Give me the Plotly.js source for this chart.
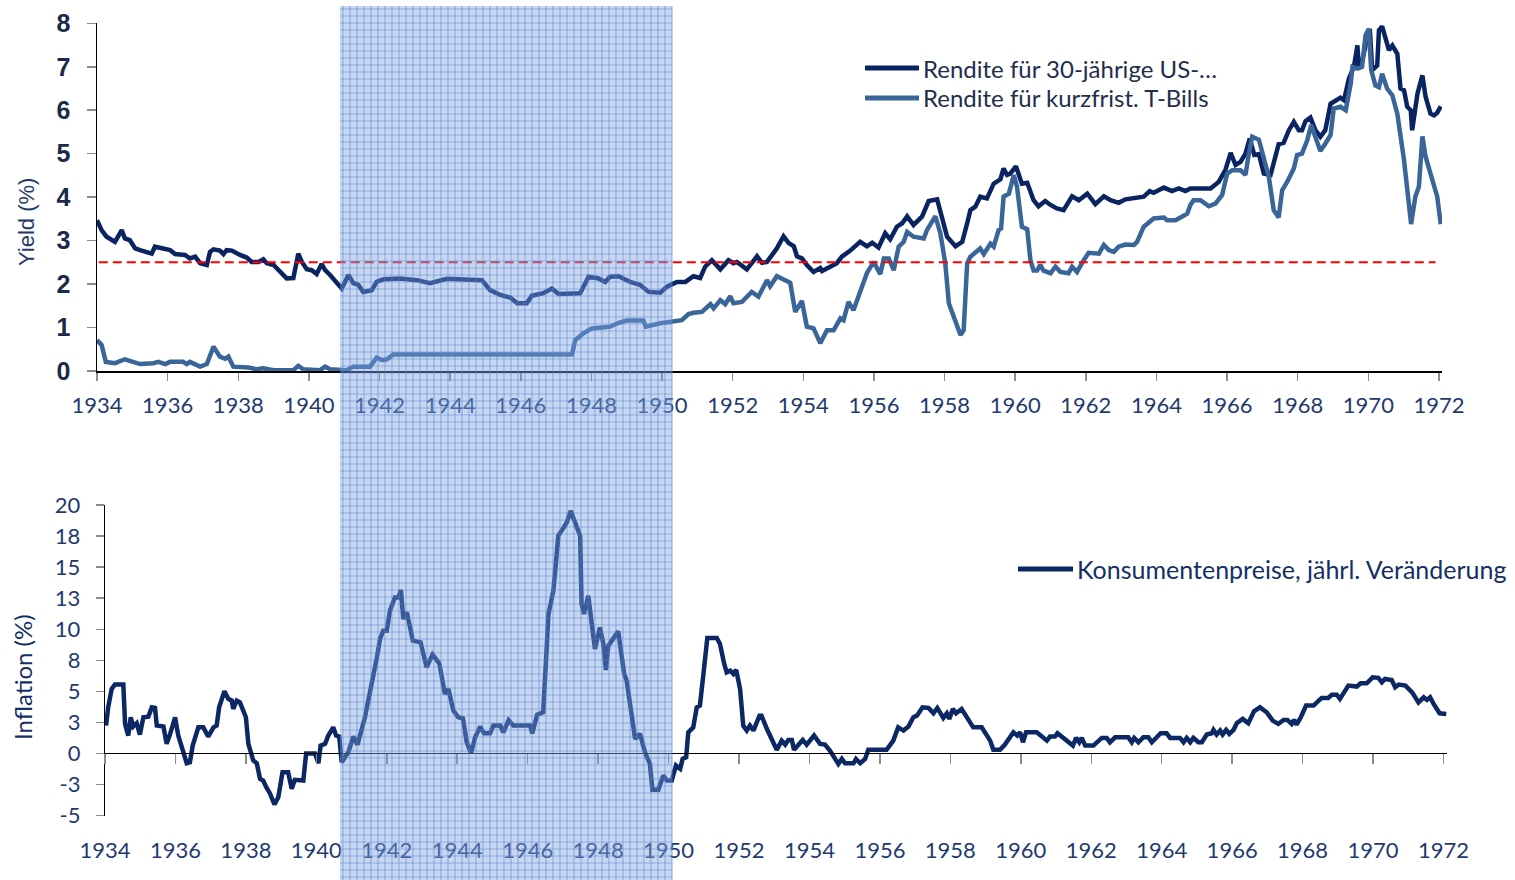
<!DOCTYPE html>
<html><head><meta charset="utf-8">
<script src="https://cdn.plot.ly/plotly-3.0.1.min.js"></script>
<style>html,body{margin:0;padding:0;background:#fff}</style>
</head><body><div id="chart" style="width:1515px;height:880px"></div>
<script>
// ---- Data ----
const bondYears=[1934.00,1934.13,1934.27,1934.51,1934.70,1934.79,1934.93,1935.08,1935.22,1935.55,1935.64,1935.88,1936.07,1936.21,1936.49,1936.63,1936.78,1936.92,1937.11,1937.20,1937.30,1937.48,1937.58,1937.67,1937.82,1938.05,1938.24,1938.38,1938.57,1938.71,1938.81,1939.00,1939.18,1939.37,1939.56,1939.70,1939.80,1939.94,1940.08,1940.22,1940.36,1940.46,1940.60,1940.74,1940.93,1941.12,1941.26,1941.40,1941.54,1941.78,1941.92,1942.11,1942.58,1943.06,1943.43,1943.91,1944.47,1944.90,1945.13,1945.42,1945.70,1945.90,1946.17,1946.31,1946.64,1946.88,1947.07,1947.40,1947.68,1947.92,1948.20,1948.39,1948.53,1948.77,1949.10,1949.38,1949.62,1949.95,1950.14,1950.42,1950.66,1950.89,1951.08,1951.22,1951.41,1951.65,1951.88,1952.02,1952.12,1952.40,1952.69,1952.83,1952.97,1953.25,1953.44,1953.58,1953.73,1953.82,1953.96,1954.10,1954.29,1954.48,1954.53,1954.76,1954.95,1955.09,1955.33,1955.61,1955.80,1955.95,1956.13,1956.32,1956.46,1956.65,1956.80,1956.94,1957.12,1957.36,1957.55,1957.79,1957.93,1958.07,1958.31,1958.50,1958.64,1958.73,1958.87,1959.01,1959.20,1959.39,1959.58,1959.67,1959.77,1959.86,1960.02,1960.19,1960.34,1960.52,1960.66,1960.85,1961.00,1961.18,1961.37,1961.61,1961.80,1962.04,1962.27,1962.51,1962.70,1962.93,1963.12,1963.36,1963.64,1963.81,1963.92,1964.21,1964.44,1964.63,1964.82,1964.96,1965.25,1965.53,1965.76,1965.95,1966.10,1966.24,1966.38,1966.52,1966.64,1966.77,1966.90,1967.04,1967.23,1967.32,1967.46,1967.60,1967.75,1967.89,1968.03,1968.12,1968.22,1968.36,1968.50,1968.64,1968.78,1968.93,1969.07,1969.21,1969.31,1969.45,1969.59,1969.69,1969.73,1969.82,1969.97,1970.04,1970.11,1970.25,1970.30,1970.39,1970.53,1970.58,1970.68,1970.82,1970.91,1971.01,1971.10,1971.20,1971.24,1971.39,1971.53,1971.62,1971.76,1971.86,1971.95,1972.05];
const bondYield=[3.47,3.24,3.09,2.97,3.24,3.05,3.01,2.82,2.78,2.70,2.86,2.82,2.78,2.69,2.67,2.59,2.63,2.48,2.44,2.74,2.80,2.77,2.69,2.78,2.77,2.67,2.61,2.51,2.51,2.57,2.48,2.44,2.28,2.13,2.14,2.70,2.51,2.34,2.32,2.23,2.46,2.32,2.21,2.09,1.90,2.21,2.02,1.98,1.82,1.86,2.05,2.11,2.13,2.09,2.02,2.12,2.09,2.09,1.86,1.75,1.69,1.56,1.56,1.73,1.79,1.90,1.77,1.79,1.79,2.17,2.13,2.05,2.17,2.18,2.05,1.98,1.82,1.80,1.94,2.05,2.05,2.18,2.14,2.40,2.55,2.34,2.55,2.48,2.51,2.34,2.64,2.49,2.51,2.82,3.10,2.95,2.87,2.64,2.59,2.44,2.28,2.37,2.30,2.40,2.48,2.63,2.77,2.97,2.87,2.95,2.84,3.17,3.03,3.32,3.40,3.56,3.36,3.55,3.91,3.95,3.47,3.09,2.87,2.97,3.40,3.70,3.78,4.01,3.97,4.31,4.41,4.66,4.51,4.54,4.71,4.31,4.33,3.93,3.79,3.91,3.82,3.74,3.70,4.02,3.93,4.08,3.84,4.02,3.93,3.87,3.95,3.97,4.01,4.14,4.10,4.22,4.14,4.20,4.14,4.20,4.20,4.20,4.35,4.62,5.02,4.74,4.81,5.00,5.35,4.97,4.99,4.54,4.51,4.77,5.22,5.25,5.54,5.73,5.54,5.54,5.75,5.83,5.54,5.39,5.54,6.15,6.23,6.29,6.23,6.73,7.00,7.49,6.96,7.11,7.69,7.87,6.92,7.03,7.84,7.93,7.53,7.38,7.49,7.30,6.50,6.46,6.08,6.00,5.54,6.38,6.80,6.31,5.92,5.88,5.94,6.09];

const billYears=[1934.00,1934.13,1934.25,1934.51,1934.79,1935.22,1935.59,1935.74,1935.93,1936.07,1936.44,1936.54,1936.63,1936.92,1937.11,1937.30,1937.48,1937.63,1937.72,1937.86,1938.29,1938.52,1938.71,1939.00,1939.56,1939.70,1939.84,1940.32,1940.46,1940.60,1941.07,1941.26,1941.73,1941.92,1942.07,1942.21,1942.39,1947.45,1947.54,1947.78,1948.01,1948.53,1948.77,1949.00,1949.47,1949.54,1949.95,1950.42,1950.56,1950.75,1950.89,1951.13,1951.37,1951.46,1951.65,1951.79,1951.93,1952.02,1952.26,1952.54,1952.73,1952.97,1953.06,1953.25,1953.40,1953.63,1953.77,1953.96,1954.10,1954.29,1954.48,1954.67,1954.86,1955.05,1955.14,1955.28,1955.42,1955.61,1955.80,1955.99,1956.18,1956.28,1956.42,1956.56,1956.70,1956.84,1956.94,1957.12,1957.41,1957.50,1957.74,1957.88,1958.02,1958.12,1958.26,1958.45,1958.54,1958.64,1958.73,1959.01,1959.11,1959.30,1959.39,1959.53,1959.60,1959.67,1959.82,1959.96,1960.05,1960.19,1960.34,1960.43,1960.52,1960.62,1960.71,1960.80,1961.00,1961.14,1961.28,1961.51,1961.61,1961.75,1961.94,1962.08,1962.37,1962.51,1962.65,1962.79,1962.93,1963.12,1963.36,1963.45,1963.64,1963.92,1964.21,1964.30,1964.54,1964.87,1964.96,1965.05,1965.25,1965.48,1965.67,1965.86,1966.00,1966.15,1966.38,1966.52,1966.61,1966.71,1966.90,1967.04,1967.18,1967.32,1967.46,1967.56,1967.70,1967.89,1967.98,1968.12,1968.27,1968.38,1968.50,1968.64,1968.78,1968.93,1969.02,1969.21,1969.36,1969.50,1969.55,1969.69,1969.82,1969.92,1970.01,1970.08,1970.20,1970.30,1970.39,1970.53,1970.68,1970.82,1971.01,1971.10,1971.21,1971.33,1971.43,1971.53,1971.62,1971.76,1971.95,1972.05];
const billYield=[0.71,0.60,0.21,0.18,0.27,0.16,0.18,0.21,0.16,0.21,0.21,0.16,0.21,0.10,0.16,0.56,0.33,0.28,0.33,0.10,0.08,0.04,0.06,0.02,0.02,0.12,0.04,0.02,0.10,0.04,0.02,0.10,0.10,0.31,0.25,0.27,0.38,0.38,0.71,0.87,0.98,1.02,1.11,1.16,1.16,1.02,1.10,1.17,1.17,1.31,1.34,1.36,1.54,1.44,1.63,1.54,1.72,1.56,1.59,1.82,1.71,2.09,1.95,2.18,2.13,2.03,1.36,1.61,1.02,0.98,0.64,0.94,0.94,1.21,1.17,1.59,1.40,1.86,2.25,2.51,2.23,2.59,2.59,2.32,2.86,2.97,3.20,3.09,3.05,3.24,3.56,3.17,2.48,1.56,1.25,0.83,0.94,2.48,2.63,2.82,2.69,2.93,2.86,3.24,3.28,4.01,4.08,4.51,4.24,3.32,3.26,2.55,2.31,2.31,2.44,2.31,2.25,2.40,2.28,2.25,2.40,2.28,2.55,2.72,2.70,2.90,2.78,2.74,2.86,2.91,2.90,2.97,3.32,3.51,3.53,3.47,3.47,3.62,3.82,3.93,3.93,3.79,3.85,4.05,4.54,4.62,4.62,4.51,4.97,5.39,5.32,4.89,4.47,3.70,3.53,4.16,4.35,4.66,4.97,5.00,5.31,5.66,5.39,5.06,5.23,5.43,6.04,6.08,6.00,6.61,7.00,6.96,7.00,7.72,7.87,6.92,6.57,6.53,6.84,6.50,6.34,5.92,4.85,4.08,3.38,4.01,4.24,5.40,4.93,4.54,4.01,3.38];

const refYears=[1934.05,1971.90];
const refLevel=2.5;

const cpiYears=[1934.03,1934.09,1934.19,1934.28,1934.52,1934.57,1934.66,1934.73,1934.80,1934.90,1934.99,1935.09,1935.23,1935.33,1935.42,1935.47,1935.66,1935.75,1935.85,1935.99,1936.08,1936.22,1936.32,1936.41,1936.49,1936.65,1936.79,1936.93,1937.08,1937.17,1937.24,1937.39,1937.50,1937.60,1937.64,1937.74,1937.83,1938.00,1938.07,1938.21,1938.31,1938.40,1938.49,1938.59,1938.68,1938.81,1938.92,1939.04,1939.20,1939.30,1939.39,1939.63,1939.71,1939.96,1940.06,1940.12,1940.25,1940.34,1940.48,1940.56,1940.65,1940.72,1940.91,1941.05,1941.17,1941.38,1941.48,1941.57,1941.72,1941.81,1941.90,1942.00,1942.09,1942.23,1942.33,1942.40,1942.47,1942.57,1942.74,1942.96,1943.13,1943.30,1943.49,1943.65,1943.75,1943.89,1944.03,1944.16,1944.27,1944.39,1944.51,1944.65,1944.76,1944.93,1945.03,1945.22,1945.31,1945.46,1945.59,1946.07,1946.13,1946.27,1946.44,1946.52,1946.59,1946.73,1946.87,1947.01,1947.11,1947.22,1947.34,1947.49,1947.53,1947.60,1947.72,1947.91,1948.05,1948.15,1948.22,1948.29,1948.57,1948.74,1948.81,1949.05,1949.19,1949.33,1949.47,1949.54,1949.71,1949.85,1949.95,1950.09,1950.21,1950.33,1950.40,1950.50,1950.56,1950.70,1950.80,1950.89,1950.99,1951.10,1951.37,1951.46,1951.58,1951.65,1951.75,1951.84,1951.92,1952.03,1952.12,1952.22,1952.31,1952.41,1952.58,1952.64,1952.79,1953.07,1953.21,1953.31,1953.40,1953.50,1953.56,1953.69,1953.81,1953.92,1954.13,1954.30,1954.44,1954.58,1954.82,1954.92,1955.01,1955.25,1955.32,1955.44,1955.58,1955.67,1956.19,1956.38,1956.52,1956.67,1956.81,1956.95,1957.05,1957.21,1957.38,1957.52,1957.63,1957.80,1957.90,1957.97,1958.07,1958.16,1958.32,1958.65,1958.89,1959.13,1959.22,1959.41,1959.55,1959.79,1959.90,1959.98,1960.06,1960.15,1960.45,1960.60,1960.74,1960.83,1960.97,1961.04,1961.21,1961.35,1961.48,1961.57,1961.66,1961.73,1961.83,1962.06,1962.16,1962.30,1962.44,1962.53,1962.68,1963.05,1963.15,1963.22,1963.34,1963.48,1963.62,1963.72,1963.86,1963.97,1964.14,1964.24,1964.52,1964.62,1964.71,1964.81,1964.90,1965.04,1965.14,1965.28,1965.42,1965.47,1965.56,1965.66,1965.73,1965.83,1965.92,1966.04,1966.13,1966.30,1966.46,1966.62,1966.79,1966.98,1967.15,1967.31,1967.46,1967.57,1967.69,1967.76,1967.83,1967.95,1968.10,1968.31,1968.54,1968.73,1968.83,1968.97,1969.06,1969.30,1969.54,1969.65,1969.82,1969.99,1970.15,1970.25,1970.34,1970.53,1970.63,1970.73,1970.92,1971.11,1971.29,1971.44,1971.53,1971.62,1971.72,1971.89,1972.08];
const cpiChange=[2.25,3.72,5.20,5.55,5.55,2.39,1.45,2.92,2.17,2.44,1.53,2.92,2.97,3.72,3.67,2.25,2.17,0.78,1.58,2.92,1.45,0.24,-0.78,-0.70,0.64,2.11,2.11,1.37,2.11,2.25,3.72,5.01,4.40,4.26,3.59,4.26,4.12,2.92,0.78,-0.56,-0.78,-2.03,-2.17,-2.76,-3.19,-4.10,-3.51,-1.50,-1.50,-2.84,-2.11,-2.17,0.00,0.00,-0.78,0.64,0.78,1.45,2.11,1.45,1.37,-0.70,0.10,1.37,0.72,2.92,4.26,5.33,7.74,9.22,9.89,9.89,11.50,12.56,12.56,13.16,10.83,11.36,9.08,8.95,6.94,7.96,7.26,4.80,5.20,3.46,2.92,2.84,0.91,0.02,1.31,2.17,1.63,1.63,2.25,2.25,1.71,2.68,2.25,2.25,1.63,3.13,3.32,7.48,11.23,13.10,17.52,18.14,18.59,19.53,18.73,17.52,12.03,11.23,12.70,8.42,10.15,8.82,6.73,8.68,9.83,6.41,5.87,1.18,1.58,0.10,-0.83,-2.92,-2.92,-1.77,-2.17,-2.17,-0.96,-1.23,-0.43,-0.30,1.71,2.11,3.72,3.86,6.41,9.30,9.30,8.82,7.21,6.54,6.67,6.41,6.73,5.20,2.25,1.85,2.25,1.85,3.05,3.05,1.99,0.30,1.04,0.72,1.10,1.10,0.30,0.72,1.10,0.72,1.45,0.78,0.72,0.24,-0.83,-0.43,-0.78,-0.78,-0.43,-0.78,-0.43,0.30,0.30,1.04,2.11,1.85,2.17,2.92,3.05,3.72,3.67,3.24,3.67,2.87,3.24,2.79,3.59,3.24,3.59,2.11,2.11,1.04,0.30,0.30,0.72,1.71,1.45,1.71,0.91,1.71,1.71,1.37,1.04,1.37,1.37,1.63,1.26,0.91,0.64,1.26,0.91,1.26,0.64,0.64,0.91,1.26,1.26,0.91,1.31,1.31,0.91,1.26,0.91,1.31,1.31,0.91,1.31,1.63,1.63,1.26,1.26,0.91,1.26,0.91,1.26,0.91,0.91,1.53,1.63,1.90,1.53,1.85,1.53,1.90,1.58,1.90,2.44,2.79,2.44,3.40,3.72,3.32,2.65,2.39,2.71,2.71,2.39,2.71,2.33,2.92,3.86,3.86,4.48,4.48,4.74,4.74,4.40,5.47,5.39,5.65,5.65,6.13,6.09,5.73,6.00,5.92,5.33,5.55,5.47,4.93,4.12,4.53,4.32,4.53,4.00,3.24,3.19];

const yearTicks=[1934,1936,1938,1940,1942,1944,1946,1948,1950,1952,1954,1956,1958,1960,1962,1964,1966,1968,1970,1972];
const inflTickVals=[20,17.5,15,12.5,10,7.5,5,2.5,0,-2.5,-5];
const inflTickText=['20','18','15','13','10','8','5','3','0','-3','-5'];
const shadeStart=1940.88, shadeEnd=1950.29;

const legendTop=['Rendite für 30-jährige US-…','Rendite für kurzfrist. T-Bills'];
const legendBottom='Konsumentenpreise, jährl. Veränderung';

// ---- Styling / layout ----
const W=1515,H=880;
const DARK='#0a2462', LIGHT='#3a6599', CPI='#0b2864';
const LABEL='#1f3a6e';
const topXDom=[97/W,1442/W], topXRange=[1934,1972.085];
const botXDom=[105/W,1447/W], botXRange=[1934,1972.1];
const topYDom=[1-371/H,1-23.3/H], botYDom=[1-815.7/H,1-505/H];
const latoF=(s,c)=>({family:'Lato, "Open Sans", sans-serif',size:s,color:c});

const traces=[
  {x:bondYears,y:bondYield,xaxis:'x',yaxis:'y',mode:'lines',line:{color:DARK,width:4.5},name:legendTop[0],hoverinfo:'x+y'},
  {x:billYears,y:billYield,xaxis:'x',yaxis:'y',mode:'lines',line:{color:LIGHT,width:4.5},name:legendTop[1],hoverinfo:'x+y'},
  {x:refYears,y:refYears.map(()=>refLevel),xaxis:'x',yaxis:'y',mode:'lines',line:{color:'#ff0000',width:2,dash:'9px,5px'},hoverinfo:'skip'},
  {x:cpiYears,y:cpiChange,xaxis:'x2',yaxis:'y2',mode:'lines',line:{color:CPI,width:4.5},name:legendBottom,hoverinfo:'x+y'},
  {x:[cpiYears[0]],y:[cpiChange[0]],xaxis:'x3',yaxis:'y2',mode:'lines',line:{width:0},hoverinfo:'skip'}
];

function xTopPaper(yr){return topXDom[0]+(yr-topXRange[0])/(topXRange[1]-topXRange[0])*(topXDom[1]-topXDom[0]);}

const shapes=[];
const sx0=xTopPaper(shadeStart), sx1=xTopPaper(shadeEnd), sy1=1-6/H;
shapes.push({type:'rect',xref:'paper',yref:'paper',x0:sx0,x1:sx1,y0:0,y1:sy1,fillcolor:'rgba(125,160,222,0.42)',line:{width:0},layer:'above'});
const step=7;
for(let px=sx0*W+3;px<sx1*W;px+=step){
  shapes.push({type:'line',xref:'paper',yref:'paper',x0:px/W,x1:px/W,y0:0,y1:sy1,line:{color:'rgba(75,125,205,0.45)',width:1.2},layer:'above'});
}
for(let py=6+3;py<H;py+=step){
  shapes.push({type:'line',xref:'paper',yref:'paper',x0:sx0,x1:sx1,y0:1-py/H,y1:1-py/H,line:{color:'rgba(75,125,205,0.45)',width:1.2},layer:'above'});
}
// manual legends
const legLines=[[865,919,68,DARK],[865,919,98,LIGHT],[1018,1073,569,CPI]];
legLines.forEach(l=>shapes.push({type:'line',xref:'paper',yref:'paper',x0:l[0]/W,x1:l[1]/W,y0:1-l[2]/H,y1:1-l[2]/H,line:{color:l[3],width:5}}));

const annotations=[
  {xref:'paper',yref:'paper',x:921/W,y:1-68/H,xanchor:'left',yanchor:'middle',text:legendTop[0],showarrow:false,font:latoF(24,'#1f2d4e')},
  {xref:'paper',yref:'paper',x:921/W,y:1-98/H,xanchor:'left',yanchor:'middle',text:legendTop[1],showarrow:false,font:latoF(24,'#1f2d4e')},
  {xref:'paper',yref:'paper',x:1075/W,y:1-569/H,xanchor:'left',yanchor:'middle',text:legendBottom,showarrow:false,font:latoF(25,'#142f66')},
  {xref:'paper',yref:'paper',x:27/W,y:1-222/H,xanchor:'center',yanchor:'middle',text:'Yield (%)',textangle:-90,showarrow:false,font:{family:'"Liberation Sans", Arial, sans-serif',size:22,color:'#243a66'}},
  {xref:'paper',yref:'paper',x:22/W,y:1-677/H,xanchor:'center',yanchor:'middle',text:'Inflation (%)',textangle:-90,showarrow:false,font:latoF(24,'#142f66')}
];

const layout={
  width:W,height:H,margin:{l:0,r:0,t:0,b:0},paper_bgcolor:'#fff',plot_bgcolor:'rgba(0,0,0,0)',showlegend:false,
  xaxis:{domain:topXDom,range:topXRange,anchor:'y',tickmode:'array',tickvals:yearTicks,ticks:'outside',ticklen:8,tickcolor:'#8c8c8c',tickwidth:1.5,showline:true,linecolor:'#000',linewidth:1.5,showgrid:false,zeroline:false,tickfont:latoF(22,LABEL),ticklabelstandoff:6},
  yaxis:{domain:topYDom,range:[0,8],anchor:'x',dtick:1,tick0:0,ticks:'outside',ticklen:9,tickcolor:'#8c8c8c',tickwidth:1.5,showline:true,linecolor:'#000',linewidth:1.5,showgrid:false,zeroline:false,tickfont:{family:'"Liberation Sans", Arial, sans-serif',size:25,color:'#1b2a48',weight:700},ticklabelstandoff:11},
  xaxis2:{domain:botXDom,range:botXRange,anchor:'y2',tickmode:'array',tickvals:yearTicks,ticks:'outside',ticklen:8,tickcolor:'rgba(0,0,0,0)',showline:false,showgrid:false,zeroline:false,tickfont:latoF(22,LABEL),ticklabelstandoff:7},
  xaxis3:{overlaying:'x2',anchor:'free',position:1-753/H,range:botXRange,tickmode:'array',tickvals:yearTicks,ticks:'outside',ticklen:10,tickcolor:'#8c8c8c',tickwidth:1.5,showline:true,linecolor:'#000',linewidth:1.2,showticklabels:false,showgrid:false,zeroline:false},
  yaxis2:{domain:botYDom,range:[-5,20],anchor:'x2',tickmode:'array',tickvals:inflTickVals,ticktext:inflTickText,ticks:'outside',ticklen:8,tickcolor:'#8c8c8c',tickwidth:1.5,showline:true,linecolor:'#000',linewidth:1.2,showgrid:false,zeroline:false,tickfont:latoF(22,LABEL),ticklabelstandoff:11},
  shapes:shapes,annotations:annotations
};
Plotly.newPlot('chart',traces,layout,{staticPlot:true,displayModeBar:false});
</script></body></html>
